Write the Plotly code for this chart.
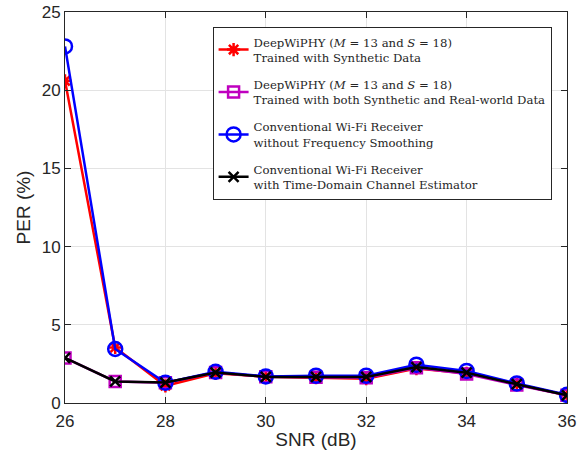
import plotly.graph_objects as go

snr = [26, 27, 28, 29, 30, 31, 32, 33, 34, 35, 36]
per_synth = [20.6, 3.55, 1.1, 1.9, 1.68, 1.62, 1.55, 2.2, 1.9, 1.2, 0.5]
per_both = [2.88, 1.38, 1.3, 1.95, 1.68, 1.65, 1.62, 2.25, 1.85, 1.15, 0.5]
per_conv = [22.8, 3.45, 1.3, 2.0, 1.7, 1.75, 1.75, 2.45, 2.05, 1.25, 0.52]
per_time = [2.88, 1.38, 1.31, 1.95, 1.67, 1.67, 1.67, 2.3, 1.94, 1.2, 0.49]

names = [
    "DeepWiPHY (<i>M</i> = 13 and <i>S</i> = 18)<br>Trained with Synthetic Data",
    "DeepWiPHY (<i>M</i> = 13 and <i>S</i> = 18)<br>Trained with both Synthetic and Real-world Data",
    "Conventional Wi-Fi Receiver<br>without Frequency Smoothing",
    "Conventional Wi-Fi Receiver<br>with Time-Domain Channel Estimator",
]

fig = go.Figure()
styles = [
    (per_synth, "red", "asterisk-open", 11),
    (per_both, "#bf00bf", "square-open", 11),
    (per_conv, "blue", "circle-open", 14),
    (per_time, "black", "x-thin-open", 10),
]
for i, ((vals, col, sym, sz), nm) in enumerate(zip(styles, names)):
    fig.add_trace(go.Scatter(
        x=snr, y=vals, name=nm, mode="lines+markers", legendgroup=f"g{i}",
        line=dict(color=col, width=2.5),
        marker=dict(symbol=sym, size=sz, color=col, line=dict(color=col, width=2.5)),
    ))

axis_common = dict(
    showline=True, linecolor="#262626", linewidth=1, mirror="ticks",
    ticks="inside", ticklen=6, tickcolor="#262626", automargin=False,
    showgrid=True, gridcolor="#e3e3e3", gridwidth=1, zeroline=False,
    tickfont=dict(family="Liberation Sans, Arial, sans-serif", size=17, color="#262626"),
)
fig.update_xaxes(range=[26, 36], dtick=2, tick0=26, ticklabelstandoff=3,
                 title=dict(text="SNR (dB)", standoff=2,
                            font=dict(family="Liberation Sans, Arial, sans-serif", size=19, color="#262626")),
                 **axis_common)
fig.update_yaxes(range=[0, 25], dtick=5,
                 title=dict(text="PER (%)", standoff=6,
                            font=dict(family="Liberation Sans, Arial, sans-serif", size=19, color="#262626")),
                 **axis_common)

fig.update_layout(
    width=587, height=458,
    margin=dict(l=65, r=20, t=12, b=55),
    plot_bgcolor="white", paper_bgcolor="white",
    legend=dict(x=0.294, y=0.962, xanchor="left", yanchor="top",
                bgcolor="white", bordercolor="#262626", borderwidth=1,
                font=dict(family="DejaVu Serif, serif", size=11.7, color="#262626"),
                itemwidth=30, tracegroupgap=9),
    showlegend=True,
)
fig.write_html("out.html", post_script="document.body.style.margin='0';",
               config={"displayModeBar": False})
